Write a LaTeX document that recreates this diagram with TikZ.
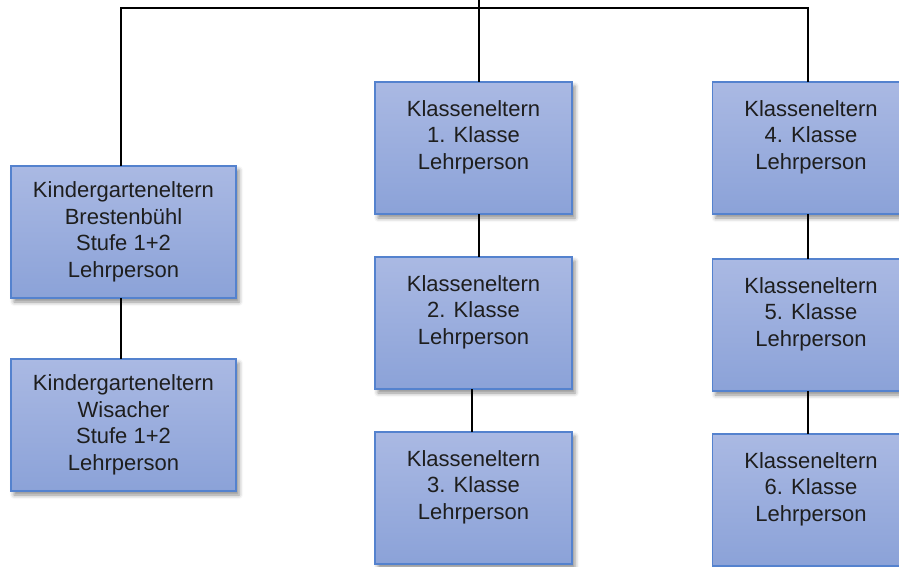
\documentclass[tikz,border=0pt]{standalone}
\usepackage{fontspec}
\setmainfont{Liberation Sans}
\usetikzlibrary{positioning,shadows,shadows.blur}
\definecolor{boxtop}{RGB}{170,185,227}
\definecolor{boxbottom}{RGB}{139,162,216}
\definecolor{boxline}{RGB}{84,130,206}
\definecolor{boxtext}{RGB}{30,30,30}
\tikzset
{
	unitbox/.style = {rectangle, draw=boxline, line width=1.2pt, top color=boxtop, bottom color=boxbottom, align=center, text=boxtext, font=\fontsize{22}{26.5}\selectfont, minimum width=197pt, minimum height=132pt, inner sep=0pt, outer sep=0pt, blur shadow={shadow xshift=3pt, shadow yshift=-4pt, shadow blur radius=4pt, shadow opacity=45}},
	kgbox/.style = {unitbox, minimum width=225pt},
	link/.style = {draw=black, line width=1.2pt}
}

\begin{document}
\begin{tikzpicture}[x=1pt, y=-1pt]
\clip (0,0) rectangle (899,566);
% kindergarten
\node[kgbox] (kgbr) at (123.5,232) {Kindergarteneltern\\Brestenbühl\\Stufe 1+2\\Lehrperson};
\node[kgbox, below=61pt of kgbr] (kgwi) {Kindergarteneltern\\Wisacher\\Stufe 1+2\\Lehrperson};
% classes 1-3
\node[unitbox] (kl1) at (473.5,148) {Klasseneltern\\1. Klasse\\Lehrperson\\\mbox{}};
\node[unitbox, below=43pt of kl1] (kl2) {Klasseneltern\\2. Klasse\\Lehrperson\\\mbox{}};
\node[unitbox, below=43pt of kl2] (kl3) {Klasseneltern\\3. Klasse\\Lehrperson\\\mbox{}};
% classes 4-6
\node[unitbox] (kl4) at (811,148) {Klasseneltern\\4. Klasse\\Lehrperson\\\mbox{}};
\node[unitbox, below=45pt of kl4] (kl5) {Klasseneltern\\5. Klasse\\Lehrperson\\\mbox{}};
\node[unitbox, below=43pt of kl5] (kl6) {Klasseneltern\\6. Klasse\\Lehrperson\\\mbox{}};
\coordinate (root) at (479,0);
\coordinate (bus) at (479,8);
\draw[link] (root) -- (root |- kl1.north);
\draw[link] ([xshift=-2.5pt]kgbr.north) |- (bus) -| ([xshift=-3pt]kl4.north);
\draw[link] ([xshift=-2.5pt]kgbr.south) -- ([xshift=-2.5pt]kgwi.north);
\draw[link] ([xshift=5.5pt]kl1.south) -- ([xshift=5.5pt]kl2.north);
\draw[link] ([xshift=-1.5pt]kl2.south) -- ([xshift=-1.5pt]kl3.north);
\draw[link] ([xshift=-3pt]kl4.south) -- ([xshift=-3pt]kl5.north);
\draw[link] ([xshift=-3pt]kl5.south) -- ([xshift=-3pt]kl6.north);
\end{tikzpicture}
\end{document}
